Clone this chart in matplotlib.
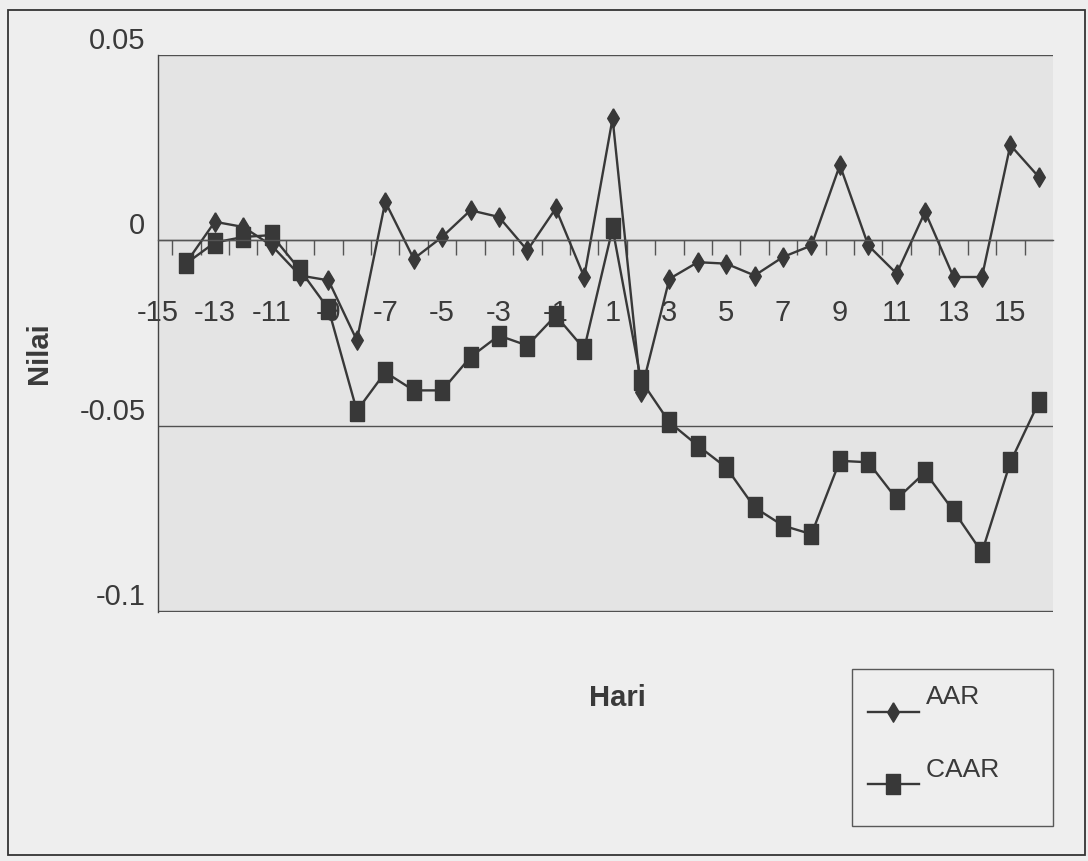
import matplotlib
matplotlib.use("Agg")
import matplotlib.pyplot as plt
from matplotlib.patches import Rectangle

# Data (one point per day)
hari = [-14, -13, -12, -11, -10, -9, -8, -7, -6, -5, -4, -3, -2, -1, 0, 1,
        2, 3, 4, 5, 6, 7, 8, 9, 10, 11, 12, 13, 14, 15, 16]
aar = [-0.0060, 0.0050, 0.0036, -0.0014, -0.0095, -0.0108, -0.0270, 0.0104,
       -0.0050, 0.0009, 0.0081, 0.0063, -0.0027, 0.0086, -0.0099, 0.0329,
       -0.0410, -0.0104, -0.0059, -0.0063, -0.0095, -0.0045, -0.0014, 0.0203,
       -0.0014, -0.0090, 0.0077, -0.0099, -0.0099, 0.0257, 0.0171]
caar = [-0.0062, -0.0006, 0.0009, 0.0014, -0.0080, -0.0185, -0.0460, -0.0356,
        -0.0405, -0.0405, -0.0315, -0.0257, -0.0284, -0.0203, -0.0293, 0.0032,
        -0.0378, -0.0491, -0.0554, -0.0613, -0.0721, -0.0770, -0.0793, -0.0595,
        -0.0599, -0.0698, -0.0626, -0.0730, -0.0842, -0.0599, -0.0437]
xtick_vals = [-15, -13, -11, -9, -7, -5, -3, -1, 1, 3, 5, 7, 9, 11, 13, 15]
ytick_vals = [-0.1, -0.05, 0, 0.05]
ytick_text = ["-0.1", "-0.05", "0", "0.05"]

plt.rcParams["font.family"] = ["Liberation Sans", "DejaVu Sans"]
txt = "#3a3a3a"
ink = "#383838"

# tall diamond / tall rectangle markers like the scanned Excel chart
diamond = [(0, 0.5), (0.3, 0), (0, -0.5), (-0.3, 0), (0, 0.5)]
kotak = [(-0.32, -0.5), (0.32, -0.5), (0.32, 0.5), (-0.32, 0.5), (-0.32, -0.5)]

fig = plt.figure(figsize=(10.88, 8.61), dpi=100, facecolor="#eeeeee")
ax = fig.add_axes([0.1452, 0.2892, 0.8226, 0.6469], facecolor="#e4e4e4")

ax.plot(hari, aar, color=ink, lw=1.7, marker=diamond, ms=14,
        mfc=ink, mec=ink, label="AAR\n ")
ax.plot(hari, caar, color=ink, lw=1.7, marker=kotak, ms=15,
        mfc=ink, mec=ink, label="CAAR     \n ")

ax.set_xlim(-15, 16.5)
ax.set_ylim(-0.1003, 0.05)

# x axis crosses at zero, ticks between categories
ax.spines["bottom"].set_position(("data", 0))
for s in ["top", "right"]:
    ax.spines[s].set_visible(False)
ax.spines["bottom"].set_color("#555555")
ax.spines["left"].set_color("#444444")
ax.spines["bottom"].set_linewidth(1)
ax.spines["left"].set_linewidth(1)

ax.set_xticks(xtick_vals)
ax.set_xticklabels([str(v) for v in xtick_vals])
ax.set_xticks([h + 0.5 for h in hari[:-1]] + [hari[0] - 0.5], minor=True)
ax.tick_params(axis="x", which="major", length=0, pad=42, labelsize=21,
               labelcolor=txt)
ax.tick_params(axis="x", which="minor", direction="out", length=11,
               width=1, color="#555555")

ax.set_yticks(ytick_vals)
ax.set_yticklabels(ytick_text)
ax.tick_params(axis="y", length=0, pad=9, labelsize=21, labelcolor=txt)
plt.setp(ax.get_yticklabels(), va="bottom")

ax.yaxis.grid(True, color="#505050", lw=1)
ax.set_axisbelow(True)

ax.set_ylabel("Nilai", fontsize=21, fontweight="bold", color=txt)
ax.yaxis.set_label_coords(-0.117, 0.465)
ax.set_xlabel("Hari", fontsize=21, fontweight="bold", color=txt)
ax.xaxis.set_label_coords(0.513, -0.13)

leg = fig.legend(loc="upper left", bbox_to_anchor=(852 / 1088, 1 - 669 / 861),
                 borderaxespad=0, fontsize=19, frameon=True, fancybox=False,
                 handlelength=1.9, labelspacing=0.8, borderpad=0.62,
                 handletextpad=0.3, labelcolor=txt)
leg.get_frame().set_edgecolor("#333333")
leg.get_frame().set_facecolor("#eeeeee")
leg.get_frame().set_linewidth(1)

# outer chart border
fig.patches.append(Rectangle((8 / 1088, 1 - 855 / 861), 1077 / 1088, 845 / 861,
                             transform=fig.transFigure, fill=False,
                             edgecolor="#333333", lw=1.3))

fig.savefig("out.png", dpi=100, facecolor=fig.get_facecolor())
